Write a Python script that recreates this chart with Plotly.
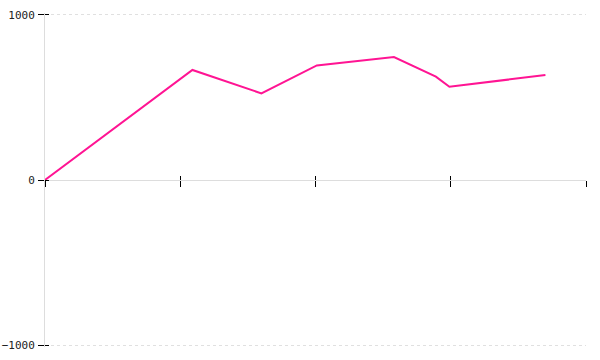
import plotly.graph_objects as go

x_values = [0, 109, 160, 201, 258, 289, 299, 370]
y_values = [0, 667, 525, 694, 745, 626, 565, 636]
y_ticks = [-1000, 0, 1000]
x_ticks = [0, 100, 200, 300, 400]

fig = go.Figure()
fig.add_trace(go.Scatter(x=x_values, y=y_values, mode="lines",
                         line=dict(color="#ff1493", width=2), hoverinfo="skip"))

font = dict(family="DejaVu Sans Mono", size=11, color="#222")
yr = [-1012, 1012]
fig.update_layout(
    width=600, height=360, margin=dict(l=45, r=14, t=13, b=13, autoexpand=False),
    paper_bgcolor="white", plot_bgcolor="white", showlegend=False,
    font=font,
    xaxis=dict(range=[0, 400], tickvals=x_ticks, showticklabels=False,
               ticks="outside", ticklen=6, tickcolor="black", tickwidth=1,
               showgrid=False, zeroline=False, showline=True, linecolor="#dddddd",
               anchor="free", position=0.5, automargin=False),
    xaxis2=dict(range=[0, 400], tickvals=x_ticks, showticklabels=False,
                ticks="inside", ticklen=4, tickcolor="black", tickwidth=1,
                showgrid=False, zeroline=False, showline=False,
                overlaying="x", anchor="free", position=0.5, automargin=False),
    yaxis=dict(range=yr, tickvals=y_ticks, ticks="outside", ticklen=6,
               tickcolor="black", tickwidth=1, showgrid=True, gridcolor="#e0e0e0",
               gridwidth=1, griddash="dot", zeroline=False, showline=True,
               linecolor="#dddddd", ticklabelstandoff=1, tickfont=font,
               automargin=False),
    yaxis2=dict(range=yr, tickvals=y_ticks, showticklabels=False,
                ticks="inside", ticklen=4, tickcolor="black", tickwidth=1,
                showgrid=False, zeroline=False, showline=False,
                overlaying="y", anchor="x", automargin=False),
)
fig.add_trace(go.Scatter(x=[None], y=[None], xaxis="x2", yaxis="y2",
                         showlegend=False, hoverinfo="skip"))
fig.write_html("out.html")
